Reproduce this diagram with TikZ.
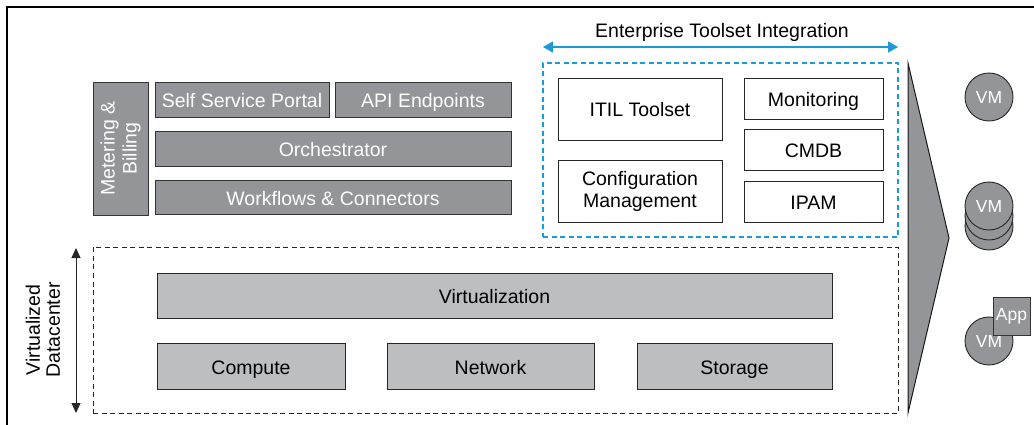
\documentclass[tikz,border=0pt]{standalone}
\usepackage{fontspec}
\setmainfont{Liberation Sans}
\usetikzlibrary{arrows.meta}
\definecolor{darkbox}{HTML}{939598}
\definecolor{lightbox}{HTML}{BCBEC0}
\definecolor{tealblue}{HTML}{1A9AD6}
\tikzset{
  txt/.style={font=\fontsize{19.5}{22}\selectfont},
  oneline/.style={text height=17pt, text depth=1pt},
  darkbox/.style={draw=black!80, line width=0.9pt, fill=darkbox, text=white, inner sep=0pt, txt},
  lightbox/.style={draw=black!85, line width=0.9pt, fill=lightbox, text=black, inner sep=0pt, txt, oneline},
  toolbox/.style={draw=black!85, line width=0.9pt, fill=white, text=black, inner sep=0pt, txt, align=center},
  vm/.style={circle, draw=black!85, line width=0.9pt, fill=darkbox, text=white, minimum size=48pt, inner sep=0pt, font=\fontsize{17.5}{20}\selectfont},
}
\begin{document}
\begin{tikzpicture}[x=1pt,y=-1pt]
\useasboundingbox (0,0) rectangle (1034,425);
% frame
\draw[line width=1.5pt] (7,425) -- (7,7) -- (1034,7);

% left control stack
\node[darkbox, minimum width=55pt, minimum height=133pt] (meter) at (120.5,148.5) {};
\node[rotate=90, text=white, align=center, font=\fontsize{19.5}{22}\selectfont] (meterlbl) at (meter.center) {Metering \&\\Billing};
\node[darkbox, oneline, minimum width=174pt, minimum height=35pt] (ssp) at (242,99.5) {Self Service Portal};
\node[darkbox, oneline, minimum width=176pt, minimum height=35pt] (api) at (423,99.5) {API Endpoints};
\node[darkbox, oneline, minimum width=356pt, minimum height=35pt] (orch) at (333,148.5) {Orchestrator};
\node[darkbox, oneline, minimum width=356pt, minimum height=34pt] (wf) at (333,197) {Workflows \& Connectors};

% enterprise toolset
\node[txt] (ettitle) at (722,32) {Enterprise Toolset Integration};
\coordinate (etl) at (543,47);
\coordinate (etr) at (898,47);
\draw[tealblue, line width=1.4pt, {Triangle[length=10pt,width=11pt]}-{Triangle[length=10pt,width=11pt]}] (etl) -- (etr);
\node[draw=tealblue, dashed, dash pattern=on 5pt off 3.5pt, line width=1.2pt, minimum width=355pt, minimum height=174pt, inner sep=0pt] (etbox) at (720.5,150) {};
\node[toolbox, oneline, minimum width=164pt, minimum height=62pt] (itil) at (640,109) {ITIL Toolset};
\node[toolbox, minimum width=164pt, minimum height=62pt] (cfg) at (640,191) {Configuration\\Management};
\node[toolbox, oneline, minimum width=139pt, minimum height=41pt] (mon) at (813.5,98.5) {Monitoring};
\node[toolbox, oneline, minimum width=139pt, minimum height=41pt] (cmdb) at (813.5,149.5) {CMDB};
\node[toolbox, oneline, minimum width=139pt, minimum height=41pt] (ipam) at (813.5,201.5) {IPAM};

% virtualized datacenter
\node[draw=black!85, dashed, dash pattern=on 5pt off 3.5pt, line width=1pt, minimum width=805pt, minimum height=166pt, inner sep=0pt] (vdc) at (495.5,330) {};
\coordinate (vtop) at (76,248);
\coordinate (vbot) at (76,413);
\draw[black!85, line width=1pt, {Triangle[length=10pt,width=9pt]}-{Triangle[length=10pt,width=9pt]}] (vtop) -- (vbot);
\node[rotate=90, align=center, font=\fontsize{19.5}{20}\selectfont] (vdclbl) at (43,330) {Virtualized\\Datacenter};
\node[lightbox, minimum width=675pt, minimum height=45pt] (virt) at (494.5,295.5) {Virtualization};
\node[lightbox, minimum width=188pt, minimum height=46pt] (comp) at (251,366) {Compute};
\node[lightbox, minimum width=207pt, minimum height=46pt] (net) at (490.5,366) {Network};
\node[lightbox, minimum width=195pt, minimum height=46pt] (stor) at (734.5,366) {Storage};

% funnel
\draw[fill=darkbox, draw=black!90, line width=1pt, line join=miter] (908,63) -- (949,238) -- (908,413) -- cycle;

% VMs
\node[vm] (vm1) at (989,97) {VM};
\node[vm] (vm2c) at (989,226) {};
\node[vm] (vm2b) at (989,216) {};
\node[vm] (vm2a) at (989,206) {VM};
\node[vm] (vm3) at (989,341) {\raisebox{-8pt}{VM}};
\node[darkbox, minimum width=37pt, minimum height=38pt, font=\fontsize{17.5}{20}\selectfont] (app) at (1011.5,316) {App};
\end{tikzpicture}
\end{document}
